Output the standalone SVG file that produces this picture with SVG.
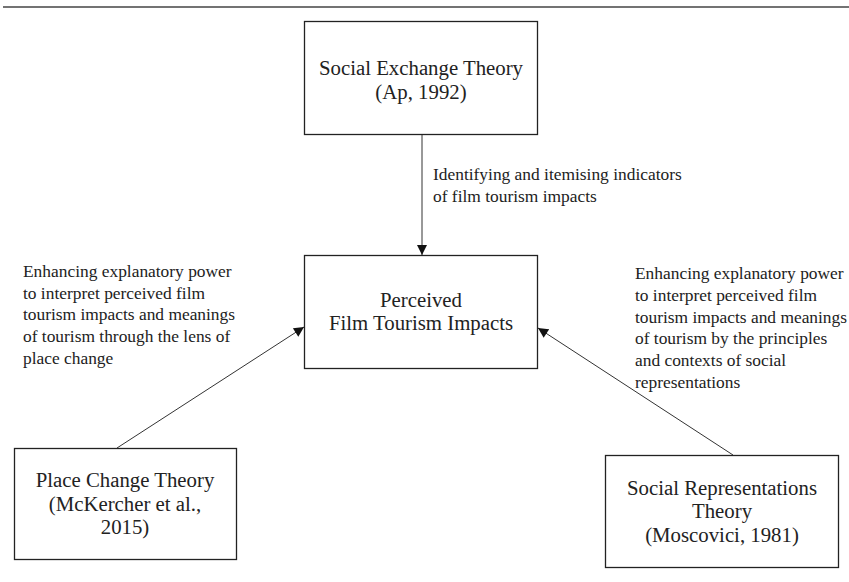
<svg xmlns="http://www.w3.org/2000/svg" width="849" height="582" viewBox="0 0 849 582">
<style>
.box{fill:#fff;stroke:#222;stroke-width:1.3}
.t{font-family:"Liberation Serif","Times New Roman",serif;font-size:20.8px;fill:#222;text-anchor:middle}
.l{font-family:"Liberation Serif","Times New Roman",serif;font-size:17.4px;fill:#222}
.c{stroke:#333;stroke-width:1;fill:none;marker-end:url(#ah)}
</style>
<defs>
<marker id="ah" viewBox="0 0 10 10" refX="10" refY="5" markerWidth="12" markerHeight="10" markerUnits="userSpaceOnUse" orient="auto">
<path d="M0,0 L10,5 L0,10 Z" fill="#111"/>
</marker>
</defs>
<rect width="849" height="582" fill="#fff"/>
<line x1="3" y1="7" x2="849" y2="7" stroke="#444" stroke-width="1.5"/>
<g id="connectors">
<line class="c" x1="422" y1="134" x2="422" y2="255"/>
<line class="c" x1="117" y1="448" x2="304" y2="327"/>
<line class="c" x1="733" y1="455" x2="538" y2="328"/>
</g>
<g id="labels">
<text class="l"><tspan x="433" y="180">Identifying and itemising indicators</tspan><tspan x="433" y="202">of film tourism impacts</tspan></text>
<text class="l"><tspan x="23" y="277">Enhancing explanatory power</tspan><tspan x="23" y="299">to interpret perceived film</tspan><tspan x="23" y="320">tourism impacts and meanings</tspan><tspan x="23" y="342">of tourism through the lens of</tspan><tspan x="23" y="364">place change</tspan></text>
<text class="l"><tspan x="635" y="279">Enhancing explanatory power</tspan><tspan x="635" y="301">to interpret perceived film</tspan><tspan x="635" y="323">tourism impacts and meanings</tspan><tspan x="635" y="344">of tourism by the principles</tspan><tspan x="635" y="366">and contexts of social</tspan><tspan x="635" y="388">representations</tspan></text>
</g>
<g id="social-exchange">
<rect class="box" x="304.5" y="21.5" width="233" height="113"/>
<text class="t"><tspan x="421" y="75">Social Exchange Theory</tspan><tspan x="421" y="99">(Ap, 1992)</tspan></text>
</g>
<g id="perceived">
<rect class="box" x="304.5" y="255.5" width="233" height="113"/>
<text class="t"><tspan x="421" y="307">Perceived</tspan><tspan x="421" y="330">Film Tourism Impacts</tspan></text>
</g>
<g id="place-change">
<rect class="box" x="14.5" y="448.5" width="222" height="111"/>
<text class="t"><tspan x="125" y="487">Place Change Theory</tspan><tspan x="125" y="511">(McKercher et al.,</tspan><tspan x="125" y="534">2015)</tspan></text>
</g>
<g id="social-representations">
<rect class="box" x="605.5" y="455.5" width="233" height="112"/>
<text class="t"><tspan x="722" y="495">Social Representations</tspan><tspan x="722" y="518">Theory</tspan><tspan x="722" y="542">(Moscovici, 1981)</tspan></text>
</g>
</svg>
